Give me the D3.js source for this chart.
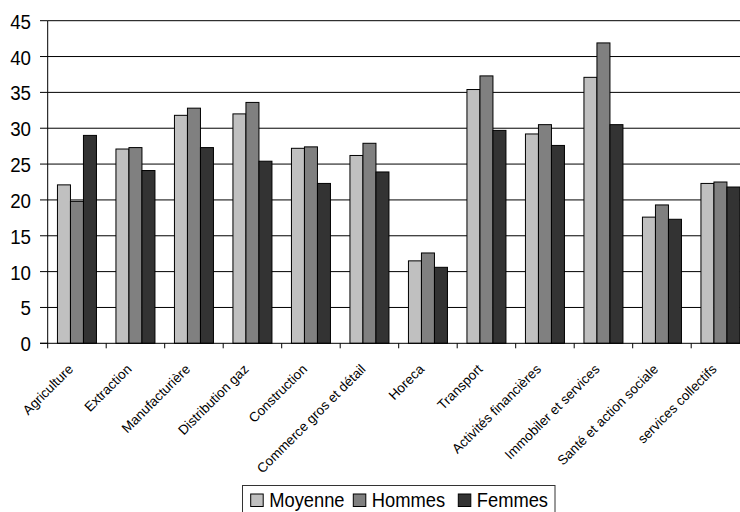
<!DOCTYPE html>
<html>
<head>
<meta charset="utf-8">
<script src="https://cdn.jsdelivr.net/npm/d3@7"></script>
<style>
  html, body { margin: 0; padding: 0; background: #fff; }
  svg { display: block; }
  text { font-family: "Liberation Sans", Arial, sans-serif; fill: #000; }
</style>
</head>
<body>
<svg id="chart" width="740" height="512"></svg>
<script>
// Secteurs d'activité
const categories = [
  "Agriculture", "Extraction", "Manufacturière", "Distribution gaz",
  "Construction", "Commerce gros et détail", "Horeca", "Transport",
  "Activités financières", "Immobiler et services", "Santé et action sociale",
  "services collectifs"
];
const seriesNames = ["Moyenne", "Hommes", "Femmes"];
const moyenne = [22.1, 27.1, 31.8, 32.0, 27.2, 26.2, 11.5, 35.4, 29.2, 37.1, 17.6, 22.3];
const hommes  = [19.8, 27.3, 32.8, 33.6, 27.4, 27.9, 12.6, 37.3, 30.5, 41.9, 19.3, 22.5];
const femmes  = [29.0, 24.1, 27.3, 25.4, 22.3, 23.9, 10.6, 29.7, 27.6, 30.5, 17.3, 21.8];
const yTicks = [0, 5, 10, 15, 20, 25, 30, 35, 40, 45];
const colors = ["#c0c0c0", "#808080", "#333333"];

const seriesValues = [moyenne, hommes, femmes];
const rows = categories.map((c, i) => ({
  cat: c,
  vals: seriesNames.map((s, k) => ({ key: s, value: seriesValues[k][i] }))
}));

const svg = d3.select("#chart");
const plotLeft = 47.7, plotTop = 20.7, plotBottom = 343.3, step = 58.5;

const x = d3.scaleBand()
  .domain(categories)
  .range([plotLeft, plotLeft + step * categories.length])
  .paddingInner(1 / 3)
  .paddingOuter(1 / 6);
const xs = d3.scaleBand().domain(seriesNames).range([0, x.bandwidth()]);
const y = d3.scaleLinear().domain([0, 45]).range([plotBottom, plotTop]);

// horizontal gridlines
svg.append("g")
  .selectAll("line")
  .data(yTicks.filter(t => t > 0))
  .join("line")
  .attr("x1", plotLeft).attr("x2", 760)
  .attr("y1", d => y(d)).attr("y2", d => y(d))
  .attr("stroke", "#000").attr("stroke-width", 1);

// bars
const groups = svg.append("g")
  .selectAll("g")
  .data(rows)
  .join("g")
  .attr("transform", d => `translate(${x(d.cat)},0)`);
groups.selectAll("rect")
  .data(d => d.vals)
  .join("rect")
  .attr("x", d => xs(d.key))
  .attr("width", xs.bandwidth())
  .attr("y", d => y(d.value))
  .attr("height", d => y(0) - y(d.value))
  .attr("fill", (d, i) => colors[i])
  .attr("stroke", "#000").attr("stroke-width", 1);

// y axis
const yAxis = svg.append("g");
yAxis.append("line")
  .attr("x1", plotLeft).attr("x2", plotLeft)
  .attr("y1", plotTop).attr("y2", plotBottom)
  .attr("stroke", "#000");
yAxis.selectAll("line.tick")
  .data(yTicks)
  .join("line").attr("class", "tick")
  .attr("x1", 40).attr("x2", plotLeft)
  .attr("y1", d => y(d)).attr("y2", d => y(d))
  .attr("stroke", "#000");
yAxis.selectAll("text")
  .data(yTicks)
  .join("text")
  .attr("transform", d => `translate(31,${y(d) + 8}) scale(0.96,1)`)
  .attr("text-anchor", "end")
  .style("font-size", "19.5px")
  .text(d => d);

// x axis
const xAxis = svg.append("g");
xAxis.append("line")
  .attr("x1", 40).attr("x2", 760)
  .attr("y1", plotBottom).attr("y2", plotBottom)
  .attr("stroke", "#000");
const boundaries = d3.range(categories.length + 1).map(i => x.range()[0] + i * x.step());
xAxis.selectAll("line.tick")
  .data(boundaries)
  .join("line").attr("class", "tick")
  .attr("x1", d => d).attr("x2", d => d)
  .attr("y1", plotBottom).attr("y2", plotBottom + 5)
  .attr("stroke", "#000");
xAxis.selectAll("text")
  .data(categories)
  .join("text")
  .attr("transform", d => `translate(${x(d) + x.bandwidth() / 2 - 3},370) rotate(-45)`)
  .attr("text-anchor", "end")
  .style("font-size", "13.5px")
  .text(d => d);

// legend
const legend = svg.append("g");
legend.append("rect")
  .attr("x", 242.5).attr("y", 485.5)
  .attr("width", 312.5).attr("height", 40)
  .attr("fill", "#fff").attr("stroke", "#333");
const legendX = [250.7, 353.3, 458.3];
const items = legend.selectAll("g")
  .data(seriesNames)
  .join("g")
  .attr("transform", (d, i) => `translate(${legendX[i]},0)`);
items.append("rect")
  .attr("x", 0).attr("y", 494)
  .attr("width", 12.5).attr("height", 12.5)
  .attr("fill", (d, i) => colors[i])
  .attr("stroke", "#000");
items.append("text")
  .attr("transform", "translate(18.5,506.7) scale(0.94,1)")
  .style("font-size", "19.5px")
  .text(d => d);
</script>
</body>
</html>
